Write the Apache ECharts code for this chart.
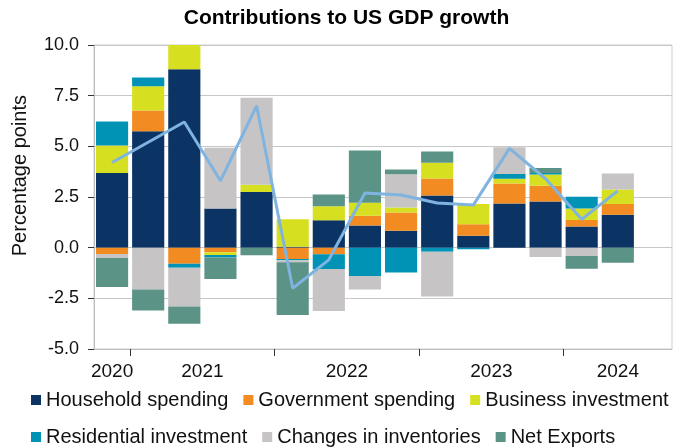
<!DOCTYPE html>
<html>
<head>
<meta charset="utf-8">
<script src="https://cdn.jsdelivr.net/npm/echarts@6/dist/echarts.min.js"></script>
<style>
html,body{margin:0;padding:0;background:#fff;}
#chart{width:693px;height:448px;}
</style>
</head>
<body>
<div id="chart"></div>
<script>
// Quarters (last slot is an empty placeholder for 2024 Q3)
const categories = ['2020 Q4','2021 Q1','2021 Q2','2021 Q3','2021 Q4','2022 Q1','2022 Q2','2022 Q3','2022 Q4','2023 Q1','2023 Q2','2023 Q3','2023 Q4','2024 Q1','2024 Q2','2024 Q3'];
const yearLabels = ['2020','2021','2022','2023','2024'];
const quartersPerYear = [1,4,4,4,3];

const household   = [3.69, 5.75, 8.80, 1.93, 2.75, 0.05, 1.35, 1.09, 0.83, 2.57, 0.59, 2.18, 2.28, 1.04, 1.63];
const government  = [-0.31, 1.02, -0.79, -0.23, 0, -0.56, -0.33, 0.49, 0.90, 0.84, 0.56, 0.99, 0.78, 0.32, 0.53];
const business    = [1.35, 1.20, 1.22, -0.13, 0.36, 1.35, 0.69, 0.64, 0.25, 0.78, 1.01, 0.23, 0.55, 0.57, 0.71];
const residential = [1.19, 0.43, -0.20, -0.13, 0, -0.06, -0.72, -1.40, -1.22, -0.20, -0.08, 0.23, 0.07, 0.58, 0];
const inventories = [-0.20, -2.06, -1.91, 3.00, 4.29, -0.10, -2.07, -0.66, 1.64, -2.21, 0, 1.32, -0.46, -0.41, 0.79];
const netExports  = [-1.43, -1.04, -0.86, -1.05, -0.38, -2.60, 0.58, 2.57, 0.24, 0.56, 0, 0, 0.25, -0.63, -0.74];
const gdpGrowth   = [4.2, 5.2, 6.2, 3.3, 7.0, -2.0, -0.6, 2.7, 2.6, 2.2, 2.1, 4.9, 3.4, 1.4, 2.8];

const seriesNames = ['Household spending','Government spending','Business investment','Residential investment','Changes in inventories','Net Exports'];
const seriesData = [household, government, business, residential, inventories, netExports];
const colors = ['#0b3464','#f28b22','#d7df21','#0093b6','#c6c4c4','#5b9386'];

// year group boundaries and centres (in category units)
const boundaries = [];
const centres = [];
let acc = 0;
quartersPerYear.forEach((q, i) => {
  centres.push(acc + q / 2);
  acc += q;
  if (i < quartersPerYear.length - 1) boundaries.push(acc);
});

const FONT = 'Liberation Sans, Arial, sans-serif';

const chart = echarts.init(document.getElementById('chart'), null, {renderer: 'canvas'});

const barSeries = seriesNames.map((name, i) => ({
  name: name,
  type: 'bar',
  stack: 'contrib',
  data: seriesData[i],
  barCategoryGap: '11%',
  itemStyle: {color: colors[i]},
  emphasis: {disabled: true},
  animation: false
}));

const legendBase = {
  left: 26,
  itemWidth: 10, itemHeight: 10, itemGap: 15,
  icon: 'rect',
  textStyle: {fontFamily: FONT, fontSize: 20, color: '#111'}
};

const option = {
  animation: false,
  textStyle: {fontFamily: FONT},
  title: {
    text: 'Contributions to US GDP growth',
    left: 'center',
    top: 3,
    textStyle: {fontFamily: FONT, fontSize: 21, fontWeight: 'bold', color: '#000'}
  },
  legend: [
    Object.assign({}, legendBase, {data: seriesNames.slice(0, 3), top: 385}),
    Object.assign({}, legendBase, {data: seriesNames.slice(3), top: 422})
  ],
  grid: {
    left: 94, right: 21, top: 45, bottom: 99,
    show: true, borderColor: '#cfcfcf', borderWidth: 1
  },
  xAxis: [
    {
      type: 'category',
      data: categories,
      boundaryGap: true,
      position: 'bottom',
      axisLine: {show: true, onZero: false, lineStyle: {color: '#bdbdbd', width: 1}},
      axisTick: {show: false},
      axisLabel: {show: false},
      splitLine: {show: false}
    },
    {
      type: 'value',
      min: 0, max: categories.length,
      position: 'bottom',
      axisLine: {show: false, onZero: false},
      axisTick: {
        show: true, length: 7, inside: false,
        lineStyle: {color: '#333'},
        customValues: boundaries
      },
      splitLine: {show: false},
      axisLabel: {
        show: true, margin: 13,
        fontFamily: FONT, fontSize: 19, color: '#111',
        customValues: centres,
        formatter: (v) => {
          const k = centres.findIndex(c => Math.abs(c - v) < 1e-6);
          return k >= 0 ? yearLabels[k] : '';
        }
      }
    }
  ],
  yAxis: {
    type: 'value',
    min: -5, max: 10, interval: 2.5,
    axisLine: {show: true, lineStyle: {color: '#bdbdbd'}},
    axisTick: {show: true, length: 6, lineStyle: {color: '#333'}},
    axisLabel: {
      fontFamily: FONT, fontSize: 18, color: '#111', margin: 15,
      formatter: (v) => v.toFixed(1)
    },
    splitLine: {show: true, lineStyle: {color: '#c8c8c8', width: 1.2}}
  },
  graphic: [{
    type: 'text',
    left: 10, top: 95,
    rotation: Math.PI / 2,
    style: {text: 'Percentage points', font: '20px ' + FONT, fill: '#111'}
  }],
  series: barSeries.concat([{
    name: 'GDP growth',
    type: 'line',
    data: gdpGrowth,
    symbol: 'none',
    lineStyle: {color: '#7fb3e0', width: 3},
    itemStyle: {color: '#7fb3e0'},
    z: 10,
    animation: false
  }])
};

chart.setOption(option);
</script>
</body>
</html>
